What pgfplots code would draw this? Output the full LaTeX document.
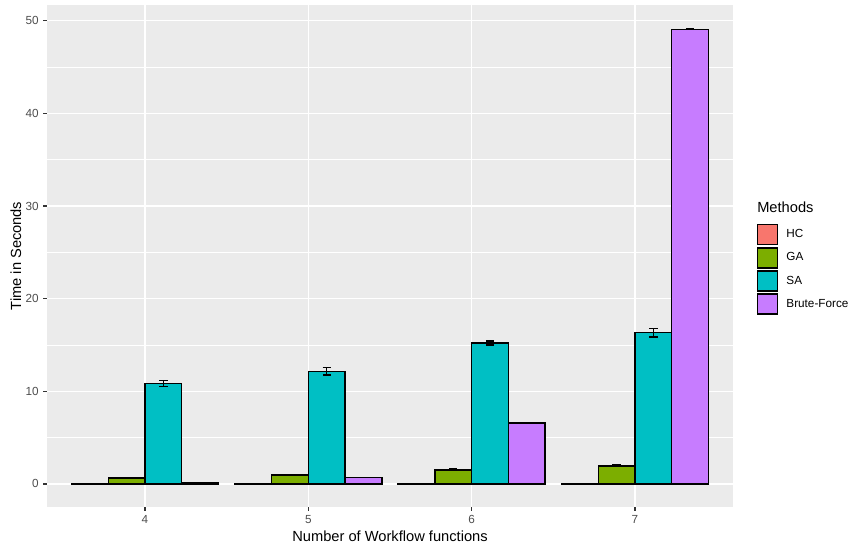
\documentclass[border=0pt]{standalone}
\usepackage{pgfplots}
\pgfplotsset{compat=1.18}
\usepackage{pgfplotstable}
\usepackage{fontspec}
\setmainfont{Liberation Sans}

\definecolor{hcred}{HTML}{F8766D}
\definecolor{gagreen}{HTML}{7CAE00}
\definecolor{sacyan}{HTML}{00BFC4}
\definecolor{bfpurple}{HTML}{C77CFF}
\definecolor{panelgrey}{HTML}{EBEBEB}
\definecolor{ticktext}{HTML}{4D4D4D}
\definecolor{tickmark}{HTML}{333333}

% mean run time (s) and its spread for each method, by number of workflow functions
\pgfplotstableread{
n  hc    hcerr  ga    gaerr  sa     saerr  bf     bferr
4  0.01  0.005  0.65  0.05   10.85  0.32   0.11   0.01
5  0.01  0.005  0.96  0.05   12.15  0.42   0.69   0.02
6  0.01  0.005  1.51  0.07   15.20  0.23   6.59   0.02
7  0.01  0.005  1.95  0.10   16.32  0.45   49.06  0.03
}\timings

% bars are 0.225 x units wide (one unit is 514.5pt/4.2 = 122.5pt);
% each method is dodged by its offset so that bar and error bar share one x
\pgfplotsset{
  sqlegend/.style={legend image code/.code={%
      \draw[##1, line width=1.1pt] (0pt,-7.5pt) rectangle (15pt,7.5pt);}},
  methodbar/.style={ybar, bar width=27.5625pt, bar shift=0pt, draw=black,
      line width=1.1pt, sqlegend,
      error bars/y dir=both, error bars/y explicit,
      error bars/error bar style={black, line width=1.1pt},
      error bars/error mark options={black, line width=1.1pt, mark size=3.1pt, rotate=90}},
}

\begin{document}
\begin{tikzpicture}
\useasboundingbox (0pt,0pt) rectangle (648.75pt,414pt);
\begin{axis}[
  at={(35.25pt,33.75pt)}, anchor=south west,
  scale only axis, width=514.5pt, height=376.5pt,
  xmin=3.4, xmax=7.6, ymin=-2.5, ymax=51.7,
  clip mode=individual,
  xtick={4,5,6,7}, ytick={0,10,20,30,40,50},
  minor ytick={5,15,25,35,45},
  xtick pos=bottom, ytick pos=left,
  tick align=outside, major tick length=2.75pt, minor tick length=0pt,
  tick style={tickmark, line width=1pt},
  axis line style={draw=none},
  axis background/.style={fill=panelgrey},
  xmajorgrids, ymajorgrids, yminorgrids,
  major grid style={white, line width=1.07pt},
  minor grid style={white, line width=0.53pt},
  /pgf/number format/assume math mode=true,
  ticklabel style={font=\fontsize{8.8}{10}\selectfont, color=ticktext},
  label style={font=\fontsize{11}{13}\selectfont},
  xlabel={Number of Workflow functions},
  ylabel={Time in Seconds},
  xlabel style={at={(axis description cs:0.5,-0.0697)}, anchor=base},
  ylabel style={at={(axis description cs:-0.0452,0.5)}, anchor=center},
  legend style={at={(axis description cs:1.035,0.5637)}, anchor=north west,
    draw=none, fill=none, inner sep=0pt, outer sep=0pt,
    row sep=1.25pt, column sep=6pt,
    font=\fontsize{8.8}{10}\selectfont,
    nodes={inner sep=0pt}},
  legend cell align=left,
]
\addplot[methodbar, fill=hcred]
  table[x expr=\thisrow{n}-0.3375, y=hc, y error=hcerr] {\timings};
\addlegendentry{HC}
\addplot[methodbar, fill=gagreen]
  table[x expr=\thisrow{n}-0.1125, y=ga, y error=gaerr] {\timings};
\addlegendentry{GA}
\addplot[methodbar, fill=sacyan]
  table[x expr=\thisrow{n}+0.1125, y=sa, y error=saerr] {\timings};
\addlegendentry{SA}
\addplot[methodbar, fill=bfpurple]
  table[x expr=\thisrow{n}+0.3375, y=bf, y error=bferr] {\timings};
\addlegendentry{Brute-Force}
\node[anchor=base west, font=\fontsize{11}{13}\selectfont, inner sep=0pt]
  at (axis description cs:1.035,0.5857) {Methods};
\end{axis}
\end{tikzpicture}
\end{document}
